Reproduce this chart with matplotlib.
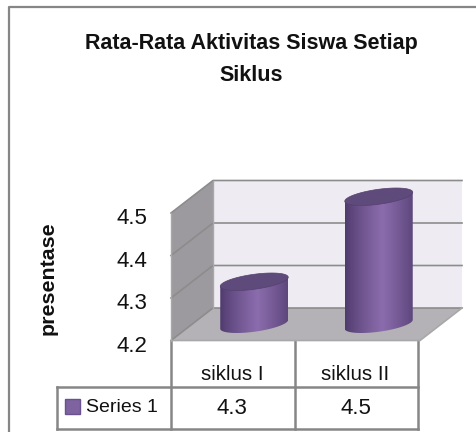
import matplotlib
matplotlib.use('Agg')
import matplotlib.pyplot as plt
from matplotlib.patches import PathPatch, Polygon
from matplotlib.path import Path
import numpy as np

title = 'Rata-Rata Aktivitas Siswa Setiap\nSiklus'
ylabel = 'presentase'
categories = ['siklus I', 'siklus II']
series_name = 'Series 1'
values = [4.3, 4.5]
yticks = [4.2, 4.3, 4.4, 4.5]

W, H = 476, 432
plt.rcParams['font.family'] = ['Liberation Sans', 'DejaVu Sans']

fig = plt.figure(figsize=(W / 100, H / 100), dpi=100)

# overlay in pixels for the frame, title and table
bg = fig.add_axes([0, 0, 1, 1])
bg.set_xlim(0, W)
bg.set_ylim(H, 0)
bg.axis('off')
bg.plot([8.5, 8.5, W], [H, 6.5, 6.5], color='#868686', lw=1.6, solid_capstyle='butt')
bg.text(251, 59.5, title, ha='center', va='center', fontsize=15.5, fontweight='bold', linespacing=1.65, color='#111111')
bg.text(48, 278, ylabel, rotation=90, ha='center', va='center', fontsize=15.4, fontweight='bold', color='#111111')

# plot area, x in categories, y in value units on the front plane
left, right, top, bottom = 171, 420, 213, 340.5
ax = fig.add_axes([left / W, 1 - bottom / H, (right - left) / W, (bottom - top) / H])
ax.axis('off')
ax.patch.set_alpha(0)

x0, x1 = 0, len(categories)
y0, y1 = yticks[0], yticks[-1]
dx = 42 / ((right - left) / len(categories))
dy = (y1 - y0) * 32.5 / (bottom - top)
xend = x1 + dx

ax.add_patch(Polygon([(x0 + dx, y0 + dy), (xend, y0 + dy), (xend, y1 + dy), (x0 + dx, y1 + dy)],
                     fc='#eeecf2', ec='none', clip_on=False, zorder=1))
ax.add_patch(Polygon([(x0, y0), (x0 + dx, y0 + dy), (x0 + dx, y1 + dy), (x0, y1)],
                     fc='#9c9a9e', ec='none', clip_on=False, zorder=1))
ax.add_patch(Polygon([(x0, y0), (x1, y0), (xend, y0 + dy), (x0 + dx, y0 + dy)],
                     fc='#b4b2b6', ec='none', clip_on=False, zorder=1))

# gridlines wrap around side wall and back wall
for t in yticks:
    ax.plot([x0, x0 + dx, xend], [t, t + dy, t + dy], color='#8c8c8c', lw=1.2, clip_on=False, zorder=2)
ax.plot([x0 + dx, x0 + dx], [y0 + dy, y1 + dy], color='#a8a8a8', lw=1.0, clip_on=False, zorder=2)
ax.plot([x0, x0], [y0, y1], color='#a8a8a8', lw=1.0, clip_on=False, zorder=2)
ax.plot([x0, x1, xend], [y0, y0, y0 + dy], color='#a8a8a8', lw=1.2, clip_on=False, zorder=2)

for t in yticks:
    ax.text(x0 - 0.19, t - 0.014, f'{t:.1f}', ha='right', va='center', fontsize=16, clip_on=False, color='#111111')

# cylinders
px_x = (right - left) / len(categories)
px_y = (bottom - top) / (y1 - y0)
bar_w = 68 / px_x
ell_h = 15 / px_y
tilt = 4.5 / px_y
dark = np.array([0x4e, 0x3a, 0x6c]) / 255
light = np.array([0x8b, 0x6c, 0xad]) / 255
u = np.linspace(0, 1, 128)
shade = np.clip(1 - np.abs(u - 0.55) / 0.55, 0, 1) ** 0.8
grad = (dark[None, :] + (light - dark)[None, :] * shade[:, None])[None, :, :]

t_arc = np.linspace(0, np.pi, 40)
for i, v in enumerate(values):
    cx = i + 0.5 + dx / 2
    base = y0 + dy / 2
    xa = cx + bar_w / 2 * np.cos(t_arc)
    # lower edge of the base ellipse, then upper part follows the top
    ya_low = base - ell_h / 2 * np.sin(t_arc) + tilt * np.cos(t_arc)
    ya_top = v + dy / 2 + tilt * np.cos(t_arc)
    verts = list(zip(xa, ya_low)) + list(zip(xa[::-1], ya_top[::-1])) + [(xa[0], ya_low[0])]
    codes = [Path.MOVETO] + [Path.LINETO] * (len(verts) - 2) + [Path.CLOSEPOLY]
    body = PathPatch(Path(verts, codes), fc='none', ec='none', transform=ax.transData, clip_on=False)
    ax.add_patch(body)
    im = ax.imshow(grad, extent=[cx - bar_w / 2, cx + bar_w / 2, base - ell_h, v + dy], aspect='auto', zorder=3)
    im.set_clip_path(body)
    # image would still stop at the axes box without this
    im.set_clip_box(fig.bbox)
    # top cap
    s = np.linspace(0, 2 * np.pi, 80)
    xt = cx + bar_w / 2 * np.cos(s)
    yt = v + dy / 2 + ell_h / 2 * np.sin(s) + tilt * np.cos(s)
    ax.add_patch(Polygon(np.column_stack([xt, yt]), fc='#5f4a7c', ec='#55416f', lw=0.5, zorder=4, clip_on=False))
ax.set_xlim(x0, x1)
ax.set_ylim(y0, y1)

# data table below the plot
tbl_l, col1, col2, col3 = 57, 171, 295, 418
row0, row1, row2 = 341, 387, 429
grey = '#868686'
for xv in (col1, col2, col3):
    bg.plot([xv, xv], [row0, row2], color=grey, lw=1.8)
for yv in (row1, row2):
    bg.plot([tbl_l, col3], [yv, yv], color=grey, lw=1.8)
bg.plot([tbl_l, tbl_l], [row1, row2], color=grey, lw=1.8)
bg.add_patch(Polygon([(65, 399), (80, 399), (80, 414), (65, 414)], fc='#7f63a1', ec='#6a5190', lw=1))
bg.text(86, 407, series_name, ha='left', va='center', fontsize=14, color='#111111')
centers = [(col1 + col2) / 2, (col2 + col3) / 2]
for c, cat, v in zip(centers, categories, values):
    bg.text(c - 1, 375, cat, ha='center', va='center', fontsize=14.8, color='#111111')
    bg.text(c - 1, 409, f'{v:.1f}', ha='center', va='center', fontsize=16, color='#111111')

fig.savefig('out.png', dpi=100)
